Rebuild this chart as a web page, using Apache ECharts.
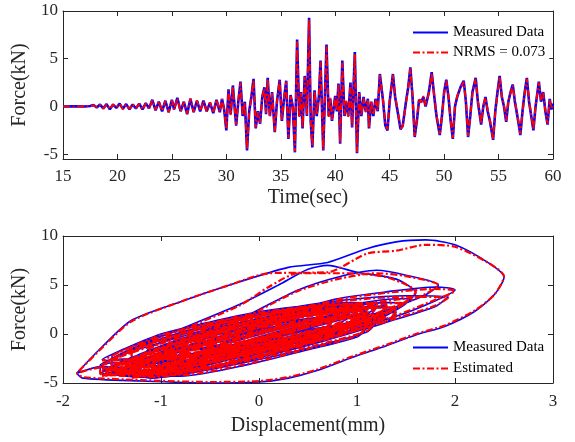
<!DOCTYPE html>
<html>
<head>
<meta charset="utf-8">
<script src="https://cdn.jsdelivr.net/npm/echarts@6/dist/echarts.min.js"></script>
<style>html,body{margin:0;padding:0;background:#fff}#c{width:575px;height:442px}</style>
</head>
<body>
<div id="c"></div>
<script>
// ---- Top plot: force time history ----
const timeSec = [
15,16,17,17.5,17.8,18.1,18.4,18.7,19.0,19.3,
19.6,19.9,20.2,20.5,20.8,21.1,21.4,21.7,22.0,22.3,
22.6,22.9,23.2,23.5,23.8,24.1,24.4,24.7,25.0,25.2,
25.5,25.8,26.1,26.4,26.7,27.0,27.3,27.6,27.9,28.2,
28.5,28.8,29.1,29.4,29.6,29.8,30.0,30.2,30.4,30.6,
30.9,31.1,31.3,31.5,31.7,31.9,32.1,32.3,32.5,32.7,
32.9,33.1,33.3,33.5,33.65,33.8,34.0,34.2,34.45,34.65,
34.9,35.1,35.3,35.5,35.7,35.9,36.1,36.3,36.5,36.7,
36.85,37.0,37.2,37.4,37.6,37.75,37.9,38.1,38.3,38.5,
38.65,38.9,39.2,39.4,39.55,39.7,40.0,40.15,40.3,40.45,
40.65,40.85,41.0,41.2,41.4,41.55,41.8,42.0,42.2,42.4,
42.6,42.8,43.0,43.1,43.3,43.5,43.7,43.9,44.1,44.4,
44.6,44.8,45.0,45.3,45.5,45.8,46.0,46.2,46.5,46.7,
46.9,47.1,47.3,47.5,47.7,47.9,48.1,48.3,48.6,48.86,
49.1,49.3,49.6,49.8,50.0,50.2,50.4,50.6,50.8,51.0,
51.2,51.5,51.8,52.0,52.2,52.4,52.6,52.9,53.1,53.4,
53.6,53.8,54.0,54.2,54.5,54.7,54.9,55.1,55.3,55.5,
55.7,55.9,56.1,56.3,56.5,56.8,57.0,57.2,57.4,57.6,
57.8,58.0,58.2,58.4,58.7,58.9,59.1,59.3,59.5,59.7,
59.85,60.0
];
const measuredForce = [
0,0.02,0,0.05,0.15,-0.1,0.2,-0.2,0.25,-0.3,
0.2,-0.15,0.3,-0.25,0.25,-0.3,0.2,-0.2,0.3,-0.3,
0.35,-0.2,0.7,-0.4,0.5,-0.5,0.6,-0.6,0.7,-0.3,
0.9,-0.5,0.5,-0.8,0.8,-0.6,0.6,-0.5,0.6,-0.5,
0.4,-0.7,0.7,-0.6,0.8,-0.3,-2.5,1.8,-0.8,2.2,
-2.0,0.5,2.6,-1.0,0.5,-4.6,-0.5,1.0,2.9,-2.3,
-0.5,-1.8,1.0,2.0,-0.8,3.0,-1.0,1.5,-2.7,0.5,
2.8,-1.5,0.8,2.7,-3.4,1.2,0.0,-4.8,7.0,-1.0,
1.5,-2.3,3.2,-1.0,9.3,-1.5,-4.3,1.7,-1.0,1.0,
4.8,-4.6,6.5,-1.0,0.8,-1.5,1.1,-0.5,2.4,-3.9,
4.8,-1.0,0.5,-1.0,2.5,-2.2,5.7,-4.9,1.5,-1.0,
1.0,-0.5,0.8,-2.3,0.5,-1.0,0.8,-0.5,3.4,0.5,
-2.0,-2.5,0.5,3.4,1.0,-1.0,-2.4,-2.0,0.5,2.0,
4.1,1.0,-3.2,-1.5,0.7,0.5,1.0,0.0,1.5,3.6,
1.0,-1.0,-3.0,-1.0,1.5,2.8,1.0,-1.5,-3.4,0.0,
1.0,2.0,2.7,0.5,-3.2,-1.0,1.5,3.0,0.5,-1.9,
0.0,1.0,-0.5,-1.5,-3.5,-0.5,1.5,3.2,1.0,0.0,
-1.6,0.5,1.5,2.3,0.5,-1.5,-3.0,-0.5,1.5,3.0,
0.5,-1.0,-2.5,0.0,2.6,0.5,1.5,-0.5,-1.9,0.8,
-0.3,0.3
];
const estimatedForce = [
0,0.01,0.01,0.04,0.12,-0.08,0.18,-0.22,0.22,-0.27,
0.22,-0.12,0.27,-0.28,0.22,-0.26,0.24,-0.18,0.27,-0.33,
0.32,-0.24,0.65,-0.37,0.55,-0.46,0.57,-0.64,0.66,-0.33,
0.85,-0.54,0.46,-0.75,0.84,-0.57,0.63,-0.46,0.56,-0.53,
0.44,-0.66,0.74,-0.55,0.76,-0.35,-2.4,1.7,-0.9,2.1,
-1.9,0.6,2.5,-0.9,0.4,-4.5,-0.6,1.1,2.8,-2.2,
-0.6,-1.7,1.1,1.9,-0.7,2.9,-1.1,1.4,-2.6,0.6,
2.7,-1.4,0.9,2.6,-3.3,1.1,0.1,-4.7,6.8,-1.1,
1.4,-2.2,3.1,-0.9,9.1,-1.6,-4.2,1.6,-0.9,1.1,
4.7,-4.5,6.3,-1.1,0.9,-1.4,1.0,-0.4,2.3,-3.8,
4.6,-0.9,0.6,-1.1,2.4,-2.1,5.5,-4.8,1.4,-0.9,
0.9,-0.6,0.7,-2.2,0.6,-0.9,0.7,-0.4,3.3,0.6,
-1.9,-2.4,0.6,3.3,1.1,-0.9,-2.3,-2.1,0.4,1.9,
4.0,1.1,-3.1,-1.4,0.8,0.4,1.1,0.1,1.4,3.5,
1.1,-0.9,-2.9,-1.1,1.4,2.7,1.1,-1.4,-3.3,0.1,
1.1,1.9,2.6,0.6,-3.1,-1.1,1.4,2.9,0.6,-1.8,
0.1,0.9,-0.4,-1.4,-3.4,-0.6,1.4,3.1,1.1,0.1,
-1.5,0.6,1.4,2.2,0.6,-1.4,-2.9,-0.6,1.4,2.9,
0.6,-0.9,-2.4,0.1,2.5,0.6,1.4,-0.4,-1.8,0.7,
-0.2,0.2
];

// ---- Bottom plot: force vs displacement loops [disp(mm), force(kN)] ----
const measuredCoreLoops = [
[[-0.4,-1.2],[-0.2,-0.2],[0.1,0.6],[0.4,1.0],[0.3,0.2],[0.0,-0.7],[-0.3,-1.4]],
[[-0.6,-1.8],[-0.4,-0.6],[-0.1,0.5],[0.3,1.2],[0.6,1.4],[0.4,0.3],[0.0,-0.9],[-0.4,-1.9]],
[[-0.9,-2.6],[-0.6,-1.2],[-0.2,0.2],[0.3,1.3],[0.8,1.9],[0.7,0.8],[0.2,-0.7],[-0.4,-2.1],[-0.8,-2.9]],
[[-1.1,-3.0],[-0.8,-1.5],[-0.4,0.0],[0.1,1.2],[0.6,2.0],[1.0,2.2],[0.8,1.0],[0.3,-0.6],[-0.3,-2.2],[-0.9,-3.3]],
[[-1.3,-3.3],[-1.0,-1.8],[-0.6,-0.4],[-0.1,1.0],[0.5,2.0],[1.1,2.5],[1.0,1.3],[0.5,-0.3],[-0.1,-1.9],[-0.8,-3.4],[-1.2,-3.7]],
[[-1.5,-3.4],[-1.2,-2.0],[-0.8,-0.5],[-0.3,0.9],[0.3,2.0],[0.9,2.7],[1.3,2.6],[1.1,1.3],[0.6,-0.2],[0.0,-1.8],[-0.6,-3.2],[-1.2,-3.9]],
[[-1.4,-3.9],[-1.1,-2.7],[-0.7,-1.4],[-0.2,0.0],[0.4,1.2],[0.9,1.9],[1.2,1.8],[0.9,0.6],[0.3,-1.0],[-0.3,-2.6],[-0.9,-3.9]],
[[-1.2,-2.4],[-0.9,-1.0],[-0.5,0.4],[0.0,1.6],[0.5,2.5],[0.9,2.9],[0.8,1.9],[0.3,0.4],[-0.3,-1.2],[-0.9,-2.5]],
[[-1.6,-3.0],[-1.3,-1.6],[-0.9,-0.2],[-0.4,1.2],[0.2,2.3],[0.7,3.0],[1.0,3.1],[0.9,2.0],[0.4,0.5],[-0.2,-1.2],[-0.9,-2.7],[-1.5,-3.6]],
[[-1.0,-3.8],[-0.6,-2.6],[-0.1,-1.2],[0.5,0.2],[1.0,1.3],[1.3,1.6],[1.0,0.3],[0.4,-1.3],[-0.3,-3.0],[-0.9,-4.0]],
[[-1.5,-4.0],[-1.2,-3.0],[-0.8,-1.8],[-0.3,-0.4],[0.3,0.8],[0.8,1.6],[1.1,1.6],[0.8,0.3],[0.2,-1.4],[-0.5,-3.0],[-1.1,-4.1]],
[[-0.8,-2.0],[-0.5,-0.6],[-0.1,0.8],[0.4,1.9],[0.9,2.6],[1.2,2.7],[1.0,1.5],[0.5,0.0],[-0.1,-1.4],[-0.7,-2.3]],
[[-1.3,-2.8],[-1.0,-1.4],[-0.6,0.0],[-0.1,1.3],[0.5,2.3],[1.1,2.8],[1.4,2.6],[1.2,1.4],[0.6,-0.1],[-0.1,-1.7],[-0.8,-2.9]],
[[-1.1,-3.5],[-0.7,-2.2],[-0.3,-0.8],[0.2,0.6],[0.7,1.6],[1.1,2.1],[1.0,0.9],[0.5,-0.6],[-0.2,-2.3],[-0.8,-3.6]],
[[-0.6,-2.6],[-0.3,-1.3],[0.1,0.0],[0.6,1.2],[1.1,2.0],[1.4,2.2],[1.3,1.2],[0.8,-0.2],[0.2,-1.6],[-0.4,-2.7]],
[[-1.6,-3.7],[-1.3,-2.4],[-0.9,-1.0],[-0.4,0.4],[0.2,1.6],[0.8,2.4],[1.2,2.7],[1.1,1.6],[0.6,0.0],[0.0,-1.7],[-0.7,-3.3],[-1.3,-4.1]],
[[-0.9,-1.6],[-0.6,-0.2],[-0.2,1.1],[0.3,2.1],[0.7,2.6],[0.6,1.6],[0.1,0.2],[-0.4,-1.1],[-0.9,-1.9]],
[[-1.4,-3.1],[-1.1,-1.8],[-0.7,-0.5],[-0.2,0.8],[0.4,1.9],[1.0,2.6],[1.3,2.9],[1.3,2.0],[0.9,0.7],[0.3,-0.9],[-0.4,-2.5],[-1.0,-3.4]],
[[-1.2,-4.1],[-0.8,-3.1],[-0.4,-1.9],[0.1,-0.5],[0.6,0.6],[1.0,1.2],[0.9,0.2],[0.4,-1.3],[-0.2,-2.9],[-0.8,-4.1]],
[[-0.5,-1.0],[-0.2,0.3],[0.2,1.5],[0.6,2.3],[1.0,2.9],[1.0,2.2],[0.6,1.0],[0.1,-0.3],[-0.4,-1.3]],
[[-1.0,-2.0],[-0.7,-0.7],[-0.3,0.6],[0.2,1.8],[0.8,2.7],[1.3,3.2],[1.5,3.1],[1.3,2.0],[0.8,0.6],[0.2,-0.8],[-0.5,-2.1]],
[[-1.5,-2.6],[-1.2,-1.3],[-0.8,0.1],[-0.3,1.4],[0.2,2.3],[0.5,2.6],[0.4,1.7],[-0.1,0.3],[-0.7,-1.1],[-1.3,-2.7]],
[[-1.6,-2.6],[-1.3,-1.2],[-1.0,0.0],[-0.6,1.0],[-0.1,2.1],[0.4,2.8],[0.9,3.2],[1.2,3.1],[1.0,2.0],[0.4,0.3],[-0.3,-1.6],[-1.0,-3.2],[-1.5,-3.4]],
[[-1.5,-2.3],[-1.2,-0.9],[-0.8,0.4],[-0.3,1.6],[0.3,2.6],[0.8,3.1],[1.0,2.6],[0.6,1.0],[0.0,-0.6],[-0.7,-2.3],[-1.3,-3.0]],
[[-1.3,-1.8],[-1.0,-0.5],[-0.6,0.7],[-0.1,1.8],[0.5,2.7],[1.0,3.0],[1.1,2.4],[0.7,1.1],[0.1,-0.4],[-0.6,-1.9],[-1.2,-2.5]],
[[-1.1,-1.3],[-0.8,-0.1],[-0.4,1.0],[0.1,2.0],[0.6,2.6],[0.8,2.3],[0.4,1.0],[-0.2,-0.4],[-0.8,-1.6]],
[[-1.6,-4.2],[-1.2,-3.8],[-0.8,-3.0],[-0.3,-1.9],[0.3,-0.6],[0.8,0.4],[1.2,1.2],[1.1,0.2],[0.6,-1.2],[0.0,-2.6],[-0.6,-3.8],[-1.2,-4.4]],
[[-1.3,-4.4],[-0.9,-3.6],[-0.4,-2.6],[0.2,-1.3],[0.7,-0.1],[1.1,0.6],[1.0,-0.3],[0.5,-1.6],[-0.1,-3.1],[-0.8,-4.3]]
];
const measuredOuterLoops = [
[[-1.4,-3.6],[-1.0,-2.2],[-0.4,-0.3],[0.3,1.5],[0.9,2.9],[1.4,3.6],[1.56,3.6],[1.4,2.5],[0.9,0.8],[0.3,-1.0],[-0.4,-2.8],[-1.0,-3.8],[-1.4,-3.6]],
[[-1.62,-3.2],[-1.3,-1.8],[-0.8,-0.3],[-0.2,1.4],[0.4,2.8],[1.0,3.6],[1.5,3.9],[1.93,3.8],[1.8,2.8],[1.3,1.2],[0.7,-0.6],[0.0,-2.4],[-0.7,-3.8],[-1.3,-4.0],[-1.62,-3.2]],
[[-1.62,-4.0],[-1.4,-3.0],[-1.0,-1.6],[-0.4,0.2],[0.2,2.0],[0.8,3.6],[1.3,4.3],[1.8,4.8],[2.0,4.5],[1.8,3.4],[1.4,1.8],[0.8,0.0],[0.1,-2.0],[-0.6,-3.6],[-1.2,-4.3],[-1.62,-4.0]],
[[-1.5,-4.1],[-1.1,-2.3],[-0.5,0.0],[0.0,2.5],[0.4,4.5],[0.8,5.8],[1.2,6.5],[1.5,6.0],[1.83,5.0],[1.7,4.0],[1.3,2.4],[0.8,0.6],[0.2,-1.4],[-0.5,-3.4],[-1.1,-4.4],[-1.5,-4.1]],
[[-1.6,-3.3],[-1.3,-1.5],[-0.8,0.5],[-0.2,3.0],[0.2,5.0],[0.5,6.6],[0.7,7.0],[1.0,6.3],[1.4,5.6],[1.6,4.2],[1.4,2.6],[0.9,0.6],[0.3,-1.5],[-0.4,-3.4],[-1.1,-4.5],[-1.6,-3.3]],
[[-1.86,-4.0],[-1.6,-1.3],[-1.3,1.4],[-0.8,3.3],[-0.3,5.0],[0.3,6.8],[0.7,7.3],[1.1,8.7],[1.4,9.4],[1.7,9.6],[2.0,9.1],[2.35,7.2],[2.5,5.8],[2.4,4.0],[2.2,2.3],[1.9,0.8],[1.6,-0.1],[1.3,-1.2],[0.95,-2.4],[0.6,-3.7],[0.3,-4.5],[0.0,-4.9],[-0.5,-5.0],[-1.2,-4.8],[-1.8,-4.5],[-1.86,-4.0]]
];
const estimatedCoreLoops = [
[[-0.4,-1.3],[-0.2,-0.3],[0.1,0.5],[0.4,1.1],[0.3,0.3],[0.0,-0.6],[-0.3,-1.3]],
[[-0.6,-1.9],[-0.4,-0.7],[-0.1,0.4],[0.3,1.1],[0.6,1.5],[0.4,0.4],[0.0,-0.8],[-0.4,-1.8]],
[[-0.9,-2.7],[-0.6,-1.3],[-0.2,0.1],[0.3,1.2],[0.8,1.8],[0.7,0.9],[0.2,-0.6],[-0.4,-2.0],[-0.8,-2.8]],
[[-1.1,-3.1],[-0.8,-1.6],[-0.4,-0.1],[0.1,1.1],[0.6,1.9],[1.0,2.3],[0.8,1.1],[0.3,-0.5],[-0.3,-2.1],[-0.9,-3.2]],
[[-1.3,-3.4],[-1.0,-1.9],[-0.6,-0.5],[-0.1,0.9],[0.5,1.9],[1.1,2.4],[1.0,1.4],[0.5,-0.2],[-0.1,-1.8],[-0.8,-3.3],[-1.2,-3.6]],
[[-1.5,-3.5],[-1.2,-2.1],[-0.8,-0.6],[-0.3,0.8],[0.3,1.9],[0.9,2.6],[1.3,2.7],[1.1,1.4],[0.6,-0.1],[0.0,-1.7],[-0.6,-3.1],[-1.2,-3.8]],
[[-1.4,-4.0],[-1.1,-2.8],[-0.7,-1.5],[-0.2,-0.1],[0.4,1.1],[0.9,1.8],[1.2,1.9],[0.9,0.7],[0.3,-0.9],[-0.3,-2.5],[-0.9,-3.8]],
[[-1.2,-2.5],[-0.9,-1.1],[-0.5,0.3],[0.0,1.5],[0.5,2.4],[0.9,2.8],[0.8,2.0],[0.3,0.5],[-0.3,-1.1],[-0.9,-2.4]],
[[-1.6,-3.1],[-1.3,-1.7],[-0.9,-0.3],[-0.4,1.1],[0.2,2.2],[0.7,2.9],[1.0,3.0],[0.9,2.1],[0.4,0.6],[-0.2,-1.1],[-0.9,-2.6],[-1.5,-3.5]],
[[-1.0,-3.9],[-0.6,-2.7],[-0.1,-1.3],[0.5,0.1],[1.0,1.2],[1.3,1.7],[1.0,0.4],[0.4,-1.2],[-0.3,-2.9],[-0.9,-3.9]],
[[-1.5,-4.1],[-1.2,-3.1],[-0.8,-1.9],[-0.3,-0.5],[0.3,0.7],[0.8,1.5],[1.1,1.7],[0.8,0.4],[0.2,-1.3],[-0.5,-2.9],[-1.1,-4.0]],
[[-0.8,-2.1],[-0.5,-0.7],[-0.1,0.7],[0.4,1.8],[0.9,2.5],[1.2,2.8],[1.0,1.6],[0.5,0.1],[-0.1,-1.3],[-0.7,-2.2]],
[[-1.3,-2.9],[-1.0,-1.5],[-0.6,-0.1],[-0.1,1.2],[0.5,2.2],[1.1,2.7],[1.4,2.7],[1.2,1.5],[0.6,0.0],[-0.1,-1.6],[-0.8,-2.8]],
[[-1.1,-3.6],[-0.7,-2.3],[-0.3,-0.9],[0.2,0.5],[0.7,1.5],[1.1,2.2],[1.0,1.0],[0.5,-0.5],[-0.2,-2.2],[-0.8,-3.5]],
[[-0.6,-2.7],[-0.3,-1.4],[0.1,-0.1],[0.6,1.1],[1.1,1.9],[1.4,2.3],[1.3,1.3],[0.8,-0.1],[0.2,-1.5],[-0.4,-2.6]],
[[-1.6,-3.8],[-1.3,-2.5],[-0.9,-1.1],[-0.4,0.3],[0.2,1.5],[0.8,2.3],[1.2,2.8],[1.1,1.7],[0.6,0.1],[0.0,-1.6],[-0.7,-3.2],[-1.3,-4.0]],
[[-0.9,-1.7],[-0.6,-0.3],[-0.2,1.0],[0.3,2.0],[0.7,2.7],[0.6,1.7],[0.1,0.3],[-0.4,-1.0],[-0.9,-1.8]],
[[-1.4,-3.2],[-1.1,-1.9],[-0.7,-0.6],[-0.2,0.7],[0.4,1.8],[1.0,2.5],[1.3,3.0],[1.3,2.1],[0.9,0.8],[0.3,-0.8],[-0.4,-2.4],[-1.0,-3.3]],
[[-1.2,-4.2],[-0.8,-3.2],[-0.4,-2.0],[0.1,-0.6],[0.6,0.5],[1.0,1.3],[0.9,0.3],[0.4,-1.2],[-0.2,-2.8],[-0.8,-4.0]],
[[-0.5,-1.1],[-0.2,0.2],[0.2,1.4],[0.6,2.2],[1.0,3.0],[1.0,2.3],[0.6,1.1],[0.1,-0.2],[-0.4,-1.2]],
[[-1.0,-2.1],[-0.7,-0.8],[-0.3,0.5],[0.2,1.7],[0.8,2.6],[1.3,3.1],[1.5,3.2],[1.3,2.1],[0.8,0.7],[0.2,-0.7],[-0.5,-2.0]],
[[-1.5,-2.7],[-1.2,-1.4],[-0.8,0.0],[-0.3,1.3],[0.2,2.2],[0.5,2.7],[0.4,1.8],[-0.1,0.4],[-0.7,-1.0],[-1.3,-2.6]],
[[-1.6,-2.7],[-1.3,-1.3],[-1.0,-0.1],[-0.6,0.9],[-0.1,2.0],[0.4,2.7],[0.9,3.1],[1.2,3.2],[1.0,2.1],[0.4,0.4],[-0.3,-1.5],[-1.0,-3.1],[-1.5,-3.5]],
[[-1.5,-2.4],[-1.2,-1.0],[-0.8,0.3],[-0.3,1.5],[0.3,2.5],[0.8,3.0],[1.0,2.7],[0.6,1.1],[0.0,-0.5],[-0.7,-2.2],[-1.3,-2.9]],
[[-1.3,-1.9],[-1.0,-0.6],[-0.6,0.6],[-0.1,1.7],[0.5,2.6],[1.0,3.1],[1.1,2.5],[0.7,1.2],[0.1,-0.3],[-0.6,-1.8],[-1.2,-2.4]],
[[-1.1,-1.4],[-0.8,-0.2],[-0.4,0.9],[0.1,1.9],[0.6,2.7],[0.8,2.4],[0.4,1.1],[-0.2,-0.3],[-0.8,-1.5]],
[[-1.6,-4.3],[-1.2,-3.9],[-0.8,-3.1],[-0.3,-2.0],[0.3,-0.7],[0.8,0.3],[1.2,1.3],[1.1,0.3],[0.6,-1.1],[0.0,-2.5],[-0.6,-3.7],[-1.2,-4.3]],
[[-1.3,-4.5],[-0.9,-3.7],[-0.4,-2.7],[0.2,-1.4],[0.7,-0.2],[1.1,0.7],[1.0,-0.2],[0.5,-1.5],[-0.1,-3.0],[-0.8,-4.2]]
];
const estimatedOuterLoops = [
[[-1.4,-3.7],[-1.0,-2.3],[-0.4,-0.4],[0.3,1.4],[0.9,2.8],[1.4,3.5],[1.56,3.7],[1.4,2.6],[0.9,0.9],[0.3,-0.9],[-0.4,-2.7],[-1.0,-3.7],[-1.4,-3.7]],
[[-1.62,-3.3],[-1.3,-1.9],[-0.8,-0.4],[-0.2,1.3],[0.4,2.7],[1.0,3.5],[1.5,3.8],[1.93,3.7],[1.8,2.9],[1.3,1.3],[0.7,-0.5],[0.0,-2.3],[-0.7,-3.7],[-1.3,-4.1],[-1.62,-3.3]],
[[-1.62,-4.1],[-1.4,-3.1],[-1.0,-1.7],[-0.4,0.1],[0.2,1.9],[0.8,3.5],[1.3,4.2],[1.8,4.6],[2.0,4.4],[1.8,3.5],[1.4,1.9],[0.8,0.1],[0.1,-1.9],[-0.6,-3.5],[-1.2,-4.2],[-1.62,-4.1]],
[[-1.5,-4.2],[-1.1,-2.4],[-0.5,-0.1],[0.0,2.4],[0.4,4.4],[0.8,5.6],[1.2,6.2],[1.5,5.9],[1.83,5.0],[1.7,4.1],[1.3,2.5],[0.8,0.7],[0.2,-1.3],[-0.5,-3.3],[-1.1,-4.3],[-1.5,-4.2]],
[[-1.6,-3.4],[-1.3,-1.6],[-0.8,0.4],[-0.2,2.9],[0.1,4.8],[0.4,6.2],[0.9,6.2],[1.3,5.8],[1.6,4.3],[1.4,2.7],[0.9,0.7],[0.3,-1.4],[-0.4,-3.3],[-1.1,-4.4],[-1.6,-3.4]],
[[-1.86,-4.0],[-1.6,-1.4],[-1.3,1.3],[-0.8,3.3],[-0.3,5.0],[0.1,6.2],[0.7,6.3],[1.1,8.2],[1.4,8.5],[1.7,9.1],[2.0,8.9],[2.35,7.2],[2.5,5.9],[2.4,4.0],[2.2,2.4],[1.9,0.9],[1.6,0.0],[1.3,-1.1],[0.95,-2.3],[0.6,-3.6],[0.3,-4.4],[0.0,-4.8],[-0.5,-4.9],[-1.2,-4.7],[-1.8,-4.4],[-1.86,-4.0]]
];

const forceTicks = [-5, 0, 5, 10];
const legendTop = ['Measured Data', 'NRMS = 0.073'];
const legendBottom = ['Measured Data', 'Estimated'];

// ---- build ----
const FONT = "'Liberation Serif','Times New Roman',serif";
const AX = '#262626';
const BLUE = '#0000FF', RED = '#FF0000';
const dashDot = [7, 2.5, 2, 2.5];

const zip = (xs, ys) => xs.map((x, i) => [x, ys[i]]);
const flat = loops => loops.reduce((a, l) => a.concat(l), []);

function axisBase(extra) {
  return Object.assign({
    type: 'value',
    axisLine: { show: true, onZero: false, lineStyle: { color: AX, width: 1 } },
    axisTick: { show: true, inside: true, length: 5, lineStyle: { color: AX, width: 1 } },
    axisLabel: { color: AX, fontSize: 17, fontFamily: FONT },
    splitLine: { show: false },
    nameTextStyle: { color: AX, fontSize: 20, fontFamily: FONT },
    nameLocation: 'middle'
  }, extra);
}
function mirror(a, pos) {
  const m = JSON.parse(JSON.stringify(a));
  m.position = pos;
  m.axisLabel = Object.assign({}, m.axisLabel, { show: false });
  delete m.name;
  return m;
}

const x0 = axisBase({ gridIndex: 0, min: 15, max: 60, interval: 5, position: 'bottom',
  name: 'Time(sec)', nameGap: 29 });
x0.axisLabel.margin = 9;
const y0 = axisBase({ gridIndex: 0, min: -5.5, max: 10, position: 'left',
  name: 'Force(kN)', nameGap: 30 });
y0.axisLabel.margin = 5;
y0.axisLabel.customValues = forceTicks;
y0.axisTick.customValues = forceTicks;

const x2 = axisBase({ gridIndex: 1, min: -2, max: 3, interval: 1, position: 'bottom',
  name: 'Displacement(mm)', nameGap: 33 });
x2.axisLabel.margin = 10;
const y2 = axisBase({ gridIndex: 1, min: -5, max: 10, interval: 5, position: 'left',
  name: 'Force(kN)', nameGap: 30 });
y2.axisLabel.margin = 5;

const legendText = { fontSize: 15, fontFamily: FONT, color: '#000' };
const legendCommon = { orient: 'vertical', left: 408, itemWidth: 35, itemHeight: 12,
  textStyle: legendText, padding: [2, 4], backgroundColor: '#fff', selectedMode: false,
  itemStyle: { opacity: 0 }, z: 10 };

const option = {
  animation: false,
  backgroundColor: '#fff',
  grid: [
    { left: 63, right: 22, top: 11, height: 148 },
    { left: 63, right: 22, top: 236, height: 147 }
  ],
  xAxis: [x0, mirror(x0, 'top'), x2, mirror(x2, 'top')],
  yAxis: [y0, mirror(y0, 'right'), y2, mirror(y2, 'right')],
  legend: [
    Object.assign({ data: legendTop, top: 23, itemGap: 5 }, legendCommon),
    Object.assign({ data: legendBottom, top: 338, itemGap: 6 }, legendCommon)
  ],
  series: [
    { name: 'Measured Data', type: 'line', xAxisIndex: 0, yAxisIndex: 0, data: zip(timeSec, measuredForce),
      symbol: 'none', lineStyle: { color: BLUE, width: 2.6 }, itemStyle: { color: BLUE } },
    { name: 'NRMS = 0.073', type: 'line', xAxisIndex: 0, yAxisIndex: 0, data: zip(timeSec, estimatedForce),
      symbol: 'none', lineStyle: { color: RED, width: 2, type: dashDot }, itemStyle: { color: RED } },
    { name: 'Measured Data', type: 'line', xAxisIndex: 2, yAxisIndex: 2,
      data: flat(measuredCoreLoops).concat(flat(measuredOuterLoops)),
      symbol: 'none', smooth: 0.25, lineStyle: { color: BLUE, width: 1.6 }, itemStyle: { color: BLUE } },
    { name: 'Estimated', type: 'line', xAxisIndex: 2, yAxisIndex: 2,
      data: flat(estimatedCoreLoops).concat(flat(estimatedOuterLoops)),
      symbol: 'none', smooth: 0.25, lineStyle: { color: RED, width: 2.2, type: dashDot }, itemStyle: { color: RED } }
  ]
};

const chart = echarts.init(document.getElementById('c'), null, { renderer: 'canvas' });
chart.setOption(option);
</script>
</body>
</html>
